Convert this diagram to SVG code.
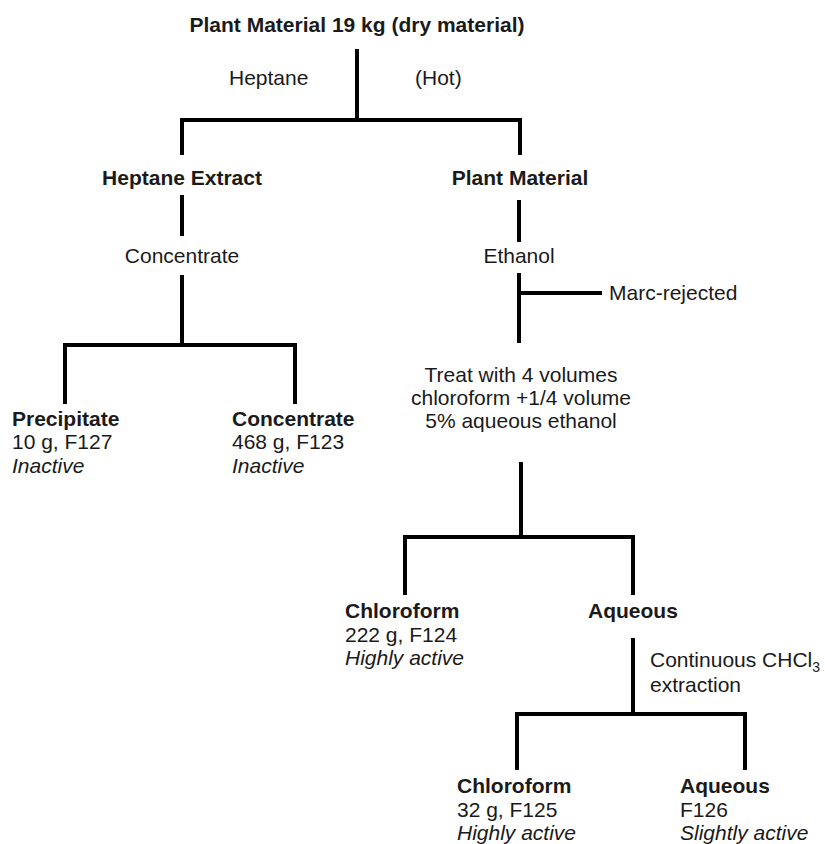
<svg xmlns="http://www.w3.org/2000/svg" width="825" height="844" viewBox="0 0 825 844">
<style>
text{font-family:"Liberation Sans",Arial,sans-serif;font-size:21px;fill:#1a1a1a}
.b{font-weight:bold}
.i{font-style:italic}
.c{text-anchor:middle}
.ln{fill:none;stroke:#000;stroke-width:4;stroke-linejoin:miter;stroke-linecap:butt}
</style>
<rect width="825" height="844" fill="#fff"/>
<g id="connectors">
<path class="ln" d="M357 49V120"/>
<path class="ln" d="M182 155V120H520V155"/>
<path class="ln" d="M182 195V236"/>
<path class="ln" d="M182 275V345"/>
<path class="ln" d="M65 404V345H295V404"/>
<path class="ln" d="M519 200V242"/>
<path class="ln" d="M519 273V343"/>
<path class="ln" d="M519 293H602"/>
<path class="ln" d="M521 462V537"/>
<path class="ln" d="M405 595V537H633V595"/>
<path class="ln" d="M633 638V714"/>
<path class="ln" d="M517 770V714H745V770"/>
</g>
<g id="root"><text class="b c" x="357" y="32">Plant Material 19 kg (dry material)</text></g>
<g id="heptane-label"><text x="229" y="85">Heptane</text><text x="415" y="85">(Hot)</text></g>
<g id="heptane-extract"><text class="b c" x="182" y="185">Heptane Extract</text></g>
<g id="concentrate-step"><text class="c" x="182" y="263">Concentrate</text></g>
<g id="precipitate"><text class="b" x="12" y="426">Precipitate</text><text x="12" y="449">10 g, F127</text><text class="i" x="12" y="473">Inactive</text></g>
<g id="concentrate"><text class="b" x="232" y="426">Concentrate</text><text x="232" y="449">468 g, F123</text><text class="i" x="232" y="473">Inactive</text></g>
<g id="plant-material"><text class="b c" x="520" y="185">Plant Material</text></g>
<g id="ethanol"><text class="c" x="519" y="263">Ethanol</text></g>
<g id="marc"><text x="609" y="300">Marc-rejected</text></g>
<g id="treat"><text class="c" x="521" y="382">Treat with 4 volumes</text><text class="c" x="521" y="405">chloroform +1/4 volume</text><text class="c" x="521" y="428">5% aqueous ethanol</text></g>
<g id="chloroform1"><text class="b" x="345" y="618">Chloroform</text><text x="345" y="642">222 g, F124</text><text class="i" x="345" y="665">Highly active</text></g>
<g id="aqueous1"><text class="b" x="588" y="618">Aqueous</text></g>
<g id="extraction"><text x="650" y="667">Continuous CHCl<tspan font-size="14" dy="5">3</tspan></text><text x="650" y="692">extraction</text></g>
<g id="chloroform2"><text class="b" x="457" y="793">Chloroform</text><text x="457" y="817">32 g, F125</text><text class="i" x="457" y="840">Highly active</text></g>
<g id="aqueous2"><text class="b" x="680" y="793">Aqueous</text><text x="680" y="817">F126</text><text class="i" x="680" y="840">Slightly active</text></g>
</svg>
